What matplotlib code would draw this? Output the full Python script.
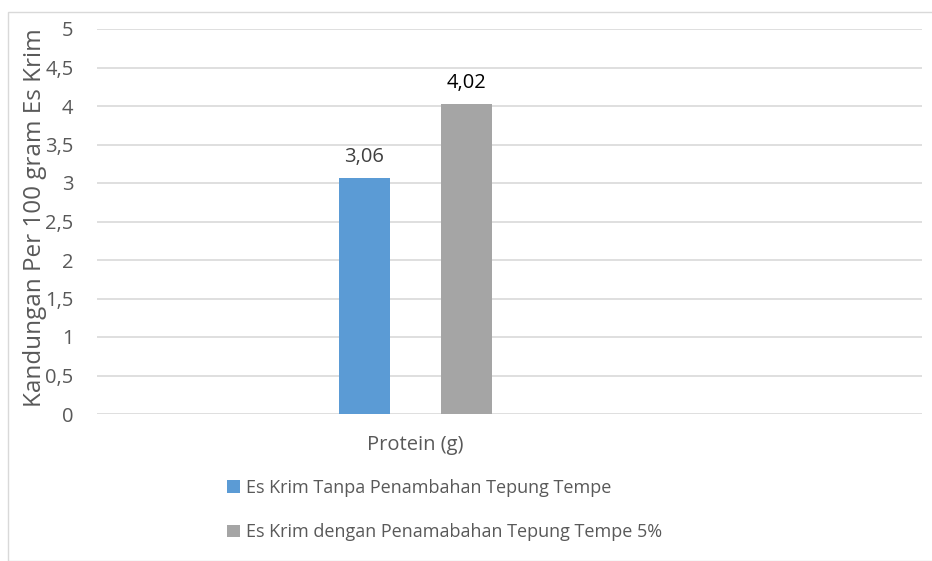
import matplotlib
matplotlib.use("Agg")
import matplotlib.pyplot as plt
from matplotlib.patches import Rectangle

# data
category = "Protein (g)"
series_names = ["Es Krim Tanpa Penambahan Tepung Tempe",
                "Es Krim dengan Penamabahan Tepung Tempe 5%"]
values = [3.06, 4.02]
colors = ["#5B9BD5", "#A5A5A5"]
yticks = [0, 0.5, 1, 1.5, 2, 2.5, 3, 3.5, 4, 4.5, 5]

plt.rcParams['font.family'] = ['Open Sans', 'DejaVu Sans']
txt = "#595959"

fig = plt.figure(figsize=(9.32, 5.61), dpi=100)
fig.patches.append(Rectangle((8/932, 0), 1, 1 - 12/561, transform=fig.transFigure,
                             fill=False, edgecolor="#D9D9D9", lw=1))

ax = fig.add_axes([97/932, 1 - 414/561, 825/932, 385/561])

offsets = [-51, 51]
bars = []
for name, v, c, off in zip(series_names, values, colors, offsets):
    b = ax.bar(off, v, width=51, color=c, label=name, zorder=3)
    bars.append(b)
    ax.annotate(f"{v:.2f}".replace(".", ","), (off, v), xytext=(0, 8),
                textcoords="offset points", ha="center", va="bottom",
                fontsize=14.5, color="#404040" if off < 0 else "#000000")

ax.set_xlim(-318.5, 506.5)
ax.set_ylim(0, 5)
ax.set_yticks(yticks)
ax.set_yticklabels([f"{t:g}".replace(".", ",") for t in yticks])
ax.set_xticks([0])
ax.set_xticklabels([category])
ax.tick_params(axis="y", length=0, pad=17, labelsize=14.5, labelcolor=txt)
ax.tick_params(axis="x", length=0, pad=15, labelsize=14.5, labelcolor=txt)
ax.yaxis.grid(True, color="#D9D9D9", lw=1.2, zorder=0)
for s in ax.spines.values():
    s.set_visible(False)

ax.set_ylabel("Kandungan Per 100 gram Es Krim", fontsize=17.5, color=txt)
ax.yaxis.set_label_coords(-0.061, 0.51)

fig.legend(handles=[b[0] for b in bars], labels=series_names,
           loc="upper left", bbox_to_anchor=(227/932, 1 - 479/561),
           frameon=False, fontsize=13, labelcolor=txt,
           handlelength=0.7, handleheight=0.7, handletextpad=0.35,
           labelspacing=1.45, borderpad=0, borderaxespad=0)

fig.savefig("out.png", dpi=100)
